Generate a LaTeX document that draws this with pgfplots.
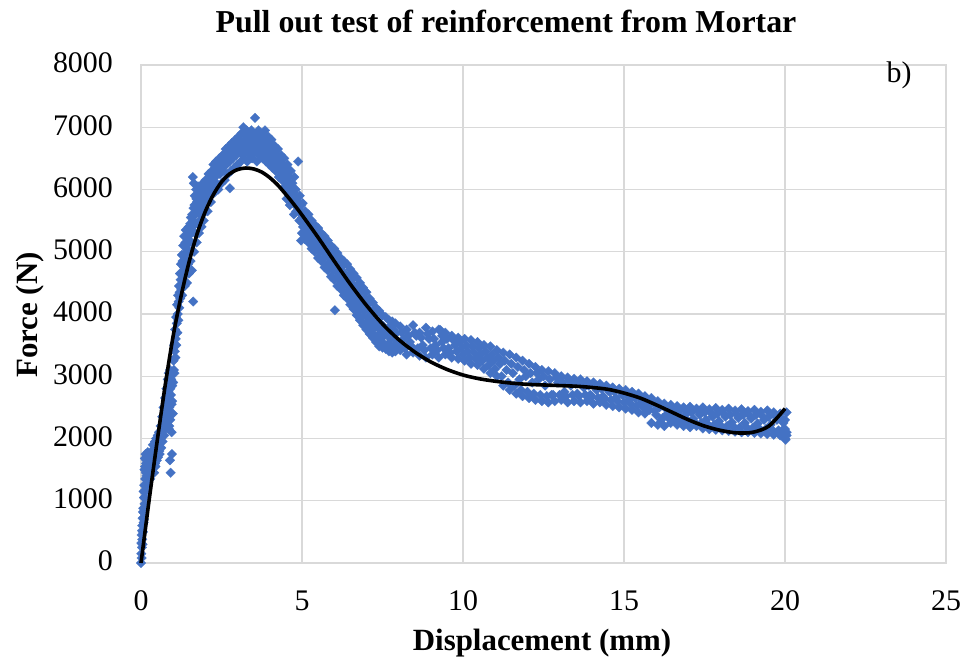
\documentclass[border=0pt]{standalone}
\usepackage{fontspec}
\setmainfont{Liberation Serif}
\usepackage{pgfplots}
\pgfplotsset{compat=1.18}
\definecolor{xlblue}{HTML}{4472C4}
\definecolor{gridc}{HTML}{D9D9D9}
\begin{document}
\begin{tikzpicture}
\path[use as bounding box] (0,0) rectangle (965bp,661bp);
\begin{axis}[
 at={(141bp,98bp)}, anchor=south west,
 scale only axis, width=805bp, height=498bp,
 xmin=0,xmax=25,ymin=0,ymax=8000,
 xtick={0,5,...,25}, ytick={0,1000,...,8000},
 grid=major, major grid style={draw=gridc, line width=1.3bp},
 axis line style={draw=gridc, line width=1.3bp},
 major tick length=0pt,
 tick label style={font=\fontsize{30}{36}\selectfont, inner sep=0pt},
 xticklabel style={anchor=base, yshift=-47bp},
 yticklabel style={anchor=east, xshift=-28bp, yshift=2bp},
 /pgf/number format/assume math mode=true,
 /pgf/number format/1000 sep={},
 scaled ticks=false,
 clip=false,
 clip marker paths=true,
]
\addplot[only marks, mark=square*, mark size=3.4bp, color=xlblue,
 mark options={rotate=45, fill=xlblue, draw=xlblue, line width=0.2bp}] coordinates {
(0.00,0) (0.01,150) (0.01,320) (0.02,80) (0.02,450) (0.03,250) (0.04,600) (0.04,380) (0.05,720) (0.06,500) (0.07,880) (0.08,650) (0.09,1050) (0.10,800) (0.10,1250) (0.11,1500) (0.12,1050) (0.12,1680) (0.13,1350) (0.14,1750) (0.15,1150) (0.16,1600) (0.17,1400) (0.18,1720) (0.19,1250) (0.20,1550) (0.21,1780) (0.22,1350) (0.24,1650) (0.25,1450) (0.26,1750) (0.28,1550) (0.29,1350) (0.30,1700) (0.31,1500) (0.33,1800) (0.34,1450) (0.36,1650) (0.37,1900) (0.38,1550) (0.40,1750) (0.41,1450) (0.43,1950) (0.44,1600) (0.46,1800) (0.47,2000) (0.49,1650) (0.50,1900) (0.52,2050) (0.53,1700) (0.55,1850) (0.56,2100) (0.58,1750) (0.60,1950) (0.61,2200) (0.63,1850) (0.64,2050) (0.66,2350) (0.67,1950) (0.69,2200) (0.70,2500) (0.72,2050) (0.73,2350) (0.75,2650) (0.76,2150) (0.78,2450) (0.79,2800) (0.80,2250) (0.82,2600) (0.83,2950) (0.84,2350) (0.85,2750) (0.86,3050) (0.87,2150) (0.88,2500) (0.89,2900) (0.90,1650) (0.90,3100) (0.91,2300) (0.92,1450) (0.93,2700) (0.94,2950) (0.95,2100) (0.96,1750) (0.97,2600) (0.98,3050) (0.99,2400)
(1.00,2900) (1.01,3250) (1.03,3500) (1.04,3050) (1.06,3750) (1.07,3300) (1.09,3950) (1.10,3500) (1.12,4150) (1.13,3700) (1.15,4300) (1.16,3900) (1.18,4450) (1.19,4100) (1.21,4650) (1.22,4250) (1.24,4800) (1.25,4400) (1.27,4950) (1.28,4300) (1.30,4600) (1.31,5100) (1.33,4750) (1.34,5250) (1.36,4450) (1.37,4900) (1.39,5350) (1.40,4650) (1.42,5050) (1.43,4500) (1.45,5200) (1.46,4800) (1.48,5400) (1.49,4650) (1.51,5000) (1.52,5300) (1.54,4850) (1.55,5550) (1.57,5150) (1.58,4700) (1.60,5400) (1.61,6200) (1.62,4200) (1.63,5700) (1.64,6100) (1.65,5000) (1.67,5900) (1.68,5300) (1.70,5600) (1.71,6000) (1.73,5150) (1.74,5800) (1.76,5450) (1.77,6050) (1.79,5650) (1.80,5300) (1.82,5900) (1.83,5500) (1.85,6050) (1.86,5700) (1.88,5400) (1.89,5950) (1.91,5600) (1.92,6100) (1.94,5800) (1.95,5500) (1.97,6000) (1.98,5700)
(2.00,6150) (2.02,5850) (2.05,6050) (2.07,5650) (2.10,6250) (2.12,5950) (2.15,6150) (2.17,5800) (2.20,6300) (2.23,6050) (2.25,6400) (2.28,5950) (2.30,6200) (2.33,6450) (2.35,6100) (2.38,6350) (2.40,6000) (2.43,6500) (2.45,6250) (2.48,6400) (2.50,6100) (2.53,6550) (2.55,6300) (2.58,6450) (2.60,6150) (2.63,6650) (2.65,6400) (2.68,6550) (2.70,6250) (2.73,6700) (2.75,6450) (2.76,6020) (2.78,6600) (2.80,6300) (2.83,6750) (2.85,6500) (2.88,6650) (2.90,6350) (2.93,6800) (2.95,6550) (2.98,6700) (3.00,6400) (3.03,6850) (3.05,6600) (3.08,6750)
(3.10,6450) (3.12,6900) (3.15,6650) (3.18,7000) (3.20,6500) (3.23,6800) (3.25,6600) (3.28,6950) (3.30,6450) (3.33,6750) (3.35,6900) (3.38,6550) (3.40,6800) (3.43,6950) (3.45,6500) (3.48,6700) (3.50,6850) (3.54,7150) (3.55,6600) (3.58,6800) (3.60,6450) (3.63,6750) (3.65,6950) (3.68,6550) (3.70,6800) (3.73,6650) (3.75,6900) (3.78,6500) (3.80,6750) (3.83,6600) (3.85,6950) (3.88,6450) (3.90,6700) (3.93,6550) (3.95,6850) (3.98,6400) (4.00,6650) (4.03,6500) (4.05,6800) (4.08,6350) (4.10,6600) (4.13,6450) (4.15,6700) (4.18,6300) (4.20,6550) (4.23,6400) (4.25,6650) (4.28,6200) (4.30,6500) (4.33,6350) (4.35,6550) (4.38,6150) (4.40,6400) (4.43,6250) (4.45,6500) (4.48,6050) (4.50,6300) (4.52,5850) (4.53,6150) (4.55,6400) (4.58,5950) (4.60,6200) (4.62,5750) (4.63,6050) (4.65,6300) (4.68,5850) (4.70,6100) (4.73,5950) (4.75,5600) (4.76,6200) (4.78,5750) (4.80,6000) (4.83,5850) (4.88,6450) (4.90,5650) (4.93,5900) (4.97,5180) (4.98,5750)
(5.00,5300) (5.00,5550) (5.02,5780) (5.05,5450) (5.10,5200) (5.10,5650) (5.15,5400) (5.20,5150) (5.20,5600) (5.25,5350) (5.30,5050) (5.30,5500) (5.35,5250) (5.40,5000) (5.40,5430) (5.45,5200) (5.50,4900) (5.50,5380) (5.55,5100) (5.60,4850) (5.60,5300) (5.65,5050) (5.70,4750) (5.70,5250) (5.75,4950) (5.80,4700) (5.80,5180) (5.85,4900) (5.90,4600) (5.90,5100) (5.95,4850) (6.00,4550) (6.00,5050) (6.02,4060) (6.05,4750) (6.10,4450) (6.10,4980) (6.15,4650) (6.20,4400) (6.20,4900) (6.25,4600) (6.30,4300) (6.30,4850) (6.35,4500) (6.40,4250) (6.40,4800) (6.45,4450) (6.50,4150) (6.50,4720) (6.55,4400) (6.60,4080) (6.60,4650) (6.65,4300) (6.70,3980) (6.70,4580) (6.75,4250) (6.80,3900) (6.80,4500) (6.85,4150) (6.90,3820) (6.90,4420) (6.95,4050) (7.00,3750) (7.00,4350) (7.05,3950) (7.10,3680) (7.10,4250) (7.15,3900) (7.20,3620) (7.20,4180) (7.25,3850) (7.30,3550) (7.30,4100) (7.35,3780) (7.40,3480) (7.40,4050) (7.45,3700) (7.50,3460) (7.50,3980) (7.55,3650) (7.60,3440) (7.60,3950) (7.65,3700) (7.70,3400) (7.70,3900) (7.75,3600) (7.80,3380) (7.80,3880) (7.85,3650) (7.90,3400) (7.90,3850) (7.95,3550)
(8.05,3420) (8.05,3800) (8.15,3600) (8.25,3350) (8.25,3750) (8.35,3550) (8.45,3380) (8.45,3820) (8.55,3650) (8.65,3330) (8.65,3700) (8.75,3500) (8.85,3300) (8.85,3780) (8.95,3600) (9.05,3350) (9.05,3720) (9.15,3500) (9.25,3300) (9.25,3750) (9.30,3740) (9.35,3550) (9.45,3350) (9.45,3700) (9.55,3450) (9.65,3300) (9.65,3650) (9.75,3500) (9.85,3280) (9.85,3620) (9.95,3450)
(10.05,3250) (10.05,3600) (10.15,3400) (10.25,3200) (10.25,3580) (10.35,3380) (10.45,3180) (10.45,3550) (10.55,3350) (10.65,3120) (10.65,3500) (10.75,3300) (10.85,3050) (10.85,3480) (10.95,3250) (11.05,3000) (11.05,3420) (11.15,3200) (11.25,2850) (11.25,3380) (11.35,3100) (11.45,2780) (11.45,3350) (11.55,3050) (11.65,2720) (11.65,3300) (11.75,2950) (11.85,2680) (11.85,3250) (11.95,3000)
(12.05,2650) (12.05,3200) (12.15,2900) (12.25,2620) (12.25,3150) (12.35,2950) (12.45,2600) (12.45,3100) (12.55,2850) (12.65,2580) (12.65,3080) (12.75,2700) (12.85,2600) (12.85,3050) (12.95,2900) (13.05,2620) (13.05,3000) (13.15,2750) (13.25,2580) (13.25,2980) (13.35,2850) (13.45,2600) (13.45,2960) (13.55,2720) (13.65,2580) (13.65,2950) (13.75,2820) (13.85,2600) (13.85,2920) (13.95,2700)
(14.05,2560) (14.05,2900) (14.15,2780) (14.25,2580) (14.25,2880) (14.35,2680) (14.45,2540) (14.45,2850) (14.55,2750) (14.65,2520) (14.65,2820) (14.75,2650) (14.85,2500) (14.85,2800) (14.95,2700) (15.05,2480) (15.05,2780) (15.15,2620) (15.25,2460) (15.25,2750) (15.35,2650) (15.45,2420) (15.45,2720) (15.55,2580) (15.65,2400) (15.65,2680) (15.75,2520) (15.85,2250) (15.85,2650) (15.95,2450)
(16.05,2220) (16.05,2600) (16.15,2300) (16.25,2200) (16.25,2560) (16.35,2400) (16.45,2250) (16.45,2540) (16.55,2380) (16.65,2220) (16.65,2520) (16.75,2350) (16.85,2200) (16.85,2500) (16.95,2400) (17.05,2180) (17.05,2510) (17.15,2320) (17.25,2200) (17.25,2480) (17.35,2380) (17.45,2160) (17.45,2500) (17.55,2300) (17.65,2150) (17.65,2470) (17.75,2350) (17.85,2140) (17.85,2490) (17.95,2280)
(18.05,2130) (18.05,2460) (18.15,2350) (18.25,2120) (18.25,2480) (18.35,2260) (18.45,2110) (18.45,2450) (18.55,2330) (18.65,2100) (18.65,2470) (18.75,2250) (18.85,2100) (18.85,2440) (18.95,2320) (19.05,2090) (19.05,2460) (19.15,2240) (19.25,2080) (19.25,2430) (19.35,2300) (19.45,2070) (19.45,2450) (19.55,2220) (19.65,2060) (19.65,2420) (19.75,2300) (19.85,2050) (19.85,2400) (19.95,2150) (20.00,2000) (20.00,2300) (20.05,2100) (20.05,2420) (20.02,1980)
(0.03,520) (0.05,300) (0.06,820) (0.08,1150) (0.09,700) (0.11,950) (0.13,1550) (0.15,1450) (0.17,1650) (0.19,1500) (0.21,1300) (0.23,1500) (0.25,1650) (0.27,1400) (0.30,1550) (0.32,1650) (0.35,1550) (0.39,1800) (0.42,1650) (0.45,1550) (0.48,1700) (0.51,1800) (0.54,1950) (0.57,1800) (0.59,2050) (0.62,1950) (0.65,2150) (0.68,2050) (0.71,2300) (0.74,2450) (0.77,2550) (0.80,2700) (0.83,2500) (0.86,2650) (0.88,2200) (0.91,2800) (0.93,2400) (0.95,2550) (0.97,2850)
(1.02,3100) (1.05,3400) (1.08,3600) (1.11,3850) (1.14,4000) (1.17,4200) (1.20,4350) (1.23,4550) (1.26,4650) (1.29,4850) (1.32,4950) (1.35,4700) (1.38,5150) (1.41,4850) (1.44,5000) (1.47,5250) (1.50,5150) (1.53,5450) (1.56,5300) (1.59,5600) (1.62,5500) (1.66,5750) (1.69,5450) (1.72,5850) (1.75,5650) (1.78,5900) (1.81,5750) (1.84,5600) (1.87,5850) (1.90,5750) (1.93,5950) (1.96,5850) (1.99,5950)
(2.03,6000) (2.08,5900) (2.13,6100) (2.18,6000) (2.21,6150) (2.26,6250) (2.31,6350) (2.36,6250) (2.41,6400) (2.46,6350) (2.51,6450) (2.56,6550) (2.61,6400) (2.66,6600) (2.71,6500) (2.77,6650) (2.81,6550) (2.86,6700) (2.91,6600) (2.96,6750) (3.01,6650) (3.06,6800)
(3.13,6700) (3.17,6550) (3.22,6900) (3.27,6700) (3.32,6600) (3.37,6850) (3.42,6650) (3.47,6900) (3.52,6750) (3.57,6650) (3.62,6900) (3.67,6700) (3.72,6550) (3.77,6850) (3.82,6700) (3.87,6800) (3.92,6650) (3.97,6750) (4.02,6600) (4.07,6700) (4.12,6550) (4.17,6600) (4.22,6450) (4.27,6500) (4.32,6300) (4.37,6400) (4.42,6150) (4.47,6350) (4.51,6050) (4.57,6200) (4.61,5900) (4.67,6050) (4.72,5800) (4.77,5900) (4.82,5650) (4.87,5800) (4.92,5500) (4.96,5650)
(5.03,5400) (5.08,5300) (5.12,5500) (5.18,5250) (5.23,5450) (5.28,5150) (5.33,5350) (5.38,5100) (5.43,5300) (5.48,5050) (5.53,5250) (5.58,5000) (5.63,5200) (5.68,4900) (5.73,5100) (5.78,4800) (5.83,5050) (5.88,4750) (5.93,4950) (5.98,4700) (6.03,4900) (6.08,4600) (6.13,4800) (6.18,4550) (6.23,4750) (6.28,4450) (6.33,4650) (6.38,4350) (6.43,4600) (6.48,4300) (6.53,4550) (6.58,4200) (6.63,4450) (6.68,4150) (6.73,4400) (6.78,4050) (6.83,4350) (6.88,3950) (6.93,4250) (6.98,3850) (7.03,4150) (7.08,3800) (7.13,4050) (7.18,3750) (7.23,4000) (7.28,3650) (7.33,3900) (7.38,3600) (7.43,3850) (7.48,3550) (7.53,3800) (7.58,3500) (7.63,3750) (7.68,3520) (7.73,3800) (7.78,3480) (7.83,3750) (7.88,3500) (7.93,3700) (7.98,3450)
(8.00,3500) (8.10,3700) (8.20,3450) (8.30,3650) (8.40,3480) (8.50,3700) (8.60,3450) (8.70,3620) (8.80,3420) (8.90,3680) (9.00,3450) (9.10,3600) (9.20,3420) (9.35,3650) (9.40,3450) (9.50,3600) (9.60,3380) (9.70,3580) (9.80,3400) (9.90,3550) (10.00,3350)
(10.10,3500) (10.20,3300) (10.30,3480) (10.40,3280) (10.50,3450) (10.60,3250) (10.70,3400) (10.80,3180) (10.90,3350) (11.00,3120) (11.10,3300) (11.20,3000) (11.30,3250) (11.40,2900) (11.50,3200) (11.60,2850) (11.70,3150) (11.80,2780) (11.90,3100) (12.00,2750) (12.10,3050) (12.20,2720) (12.30,3050) (12.40,2700) (12.50,3000) (12.60,2680) (12.70,2950) (12.80,2700) (12.90,2980) (13.00,2700) (13.10,2900) (13.20,2680) (13.30,2920) (13.40,2700) (13.50,2880) (13.60,2680) (13.70,2880) (13.80,2700) (13.90,2850) (14.00,2680)
(14.10,2850) (14.20,2650) (14.30,2800) (14.40,2640) (14.50,2780) (14.60,2620) (14.70,2750) (14.80,2600) (14.90,2760) (15.00,2580) (15.10,2700) (15.20,2560) (15.30,2680) (15.40,2530) (15.50,2650) (15.60,2500) (15.70,2620) (15.80,2460) (15.90,2580) (16.00,2380) (16.10,2500) (16.20,2330) (16.30,2480) (16.40,2320) (16.50,2450) (16.60,2300) (16.70,2440) (16.80,2280) (16.90,2450) (17.00,2270) (17.10,2420) (17.20,2260) (17.30,2440) (17.40,2250) (17.50,2420) (17.60,2230) (17.70,2410) (17.80,2220) (17.90,2400) (18.00,2210) (18.10,2400) (18.20,2200) (18.30,2380) (18.40,2190) (18.50,2390) (18.60,2180) (18.70,2380) (18.80,2180) (18.90,2370) (19.00,2170) (19.10,2380) (19.20,2160) (19.30,2360) (19.40,2150) (19.50,2350) (19.60,2140) (19.70,2360) (19.80,2130) (19.90,2320) (19.95,2250) (20.00,2150) (20.05,2050)
};
\addplot[black, line width=3.6bp, smooth] coordinates {
(0,0) (0.25,1000) (0.5,1950) (0.75,2850) (1.0,3650) (1.25,4300) (1.5,4850) (1.75,5300) (2.0,5650) (2.25,5920) (2.5,6120) (2.75,6250) (3.0,6320) (3.25,6345) (3.5,6330) (3.75,6280) (4.0,6190) (4.25,6070) (4.5,5920) (4.75,5760) (5.0,5590) (5.5,5230) (6.0,4850) (6.5,4480) (7.0,4140) (7.5,3840) (8.0,3590) (8.5,3390) (9.0,3230) (9.5,3110) (10.0,3020) (10.5,2960) (11.0,2920) (11.5,2890) (12.0,2870) (12.5,2860) (13.0,2850) (13.5,2840) (14.0,2820) (14.5,2790) (15.0,2730) (15.5,2650) (16.0,2540) (16.5,2420) (17.0,2300) (17.5,2200) (18.0,2130) (18.5,2090) (19.0,2100) (19.5,2200) (20.0,2480)
};
\end{axis}
\node[anchor=base, font=\fontsize{32}{36}\selectfont\bfseries] at (506bp,628bp) {Pull out test of reinforcement from Mortar};
\node[anchor=base, font=\fontsize{31}{36}\selectfont\bfseries] at (542bp,11bp) {Displacement (mm)};
\node[anchor=base, rotate=90, font=\fontsize{31}{36}\selectfont\bfseries] at (37bp,346bp) {Force (N)};
\node[anchor=base, font=\fontsize{30}{36}\selectfont] at (899bp,578bp) {b)};
\end{tikzpicture}
\end{document}
